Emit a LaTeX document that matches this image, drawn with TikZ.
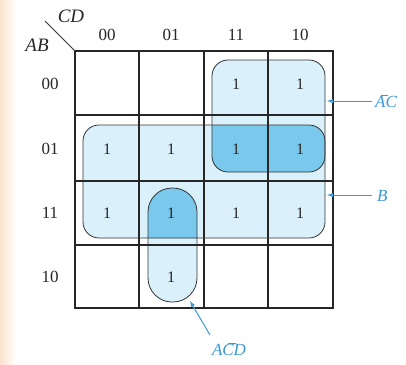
\documentclass[tikz,border=0pt]{standalone}
\usepackage{fontspec}
\setmainfont{Liberation Serif}
\newcommand{\barlet}[1]{\rlap{\hspace{0.33em}\rule[1.55ex]{0.45em}{0.6pt}}#1}
\begin{document}
\begin{tikzpicture}[x=1pt,y=-1pt,
  gridline/.style={line width=1.3pt,black!85},
  loopline/.style={line width=0.8pt,black!80},
  onelbl/.style={font=\fontsize{16}{16}\selectfont,text=black!85},
  idxlbl/.style={font=\fontsize{17}{17}\selectfont,text=black!85},
  varlbl/.style={font=\fontsize{19}{19}\selectfont\itshape,text=black!85},
  termlbl/.style={font=\fontsize{17}{17}\selectfont\itshape,text=bluelbl},
  bluearrow/.style={-latex,line width=1pt,draw=bluelbl}]
\definecolor{lightfill}{RGB}{218,241,251}
\definecolor{darkfill}{RGB}{122,201,236}
\definecolor{bluelbl}{RGB}{62,152,212}
\definecolor{peach}{RGB}{250,228,206}
\useasboundingbox (0,0) rectangle (406,364);
\fill[white] (0,0) rectangle (406,364);
\shade[left color=peach,right color=white] (0,0) rectangle (16,364);
% loop fills
\def\loopB{(83,125) rectangle (325,238)}
\def\loopAC{(212,60) rectangle (325,172)}
\def\loopACD{(148,188) rectangle (197,302)}
\fill[lightfill,rounded corners=16pt] \loopB;
\fill[lightfill,rounded corners=16pt] \loopAC;
\fill[lightfill,rounded corners=24pt] \loopACD;
\begin{scope}
  \clip[rounded corners=16pt] \loopB;
  \fill[darkfill,rounded corners=16pt] \loopAC;
  \fill[darkfill,rounded corners=24pt] \loopACD;
\end{scope}
% grid
\draw[gridline] (75,51) rectangle (333,308);
\foreach \x in {139,204,268} \draw[gridline] (\x,51) -- (\x,308);
\foreach \y in {115,181,245} \draw[gridline] (75,\y) -- (333,\y);
% loop outlines
\draw[loopline,rounded corners=16pt] \loopB;
\draw[loopline,rounded corners=16pt] \loopAC;
\draw[loopline,rounded corners=24pt] \loopACD;
% corner
\coordinate (corner) at (75,51);
\coordinate (diagend) at (45,21);
\draw[line width=1pt,black!80] (corner) -- (diagend);
\node[varlbl] (cd) at (71,16) {CD};
\node[varlbl] (ab) at (37,45) {AB};
% column labels
\node[idxlbl] (c0) at (107,35) {00};
\node[idxlbl] (c1) at (171,35) {01};
\node[idxlbl] (c2) at (236,35) {11};
\node[idxlbl] (c3) at (300,35) {10};
% row labels
\node[idxlbl] (r0) at (50,84) {00};
\node[idxlbl] (r1) at (50,149) {01};
\node[idxlbl] (r2) at (50,213) {11};
\node[idxlbl] (r3) at (50,277) {10};
% ones
\node[onelbl] (m02) at (236,84) {1};
\node[onelbl] (m03) at (300,84) {1};
\node[onelbl] (m10) at (107,149) {1};
\node[onelbl] (m11) at (171,149) {1};
\node[onelbl] (m12) at (236,149) {1};
\node[onelbl] (m13) at (300,149) {1};
\node[onelbl] (m20) at (107,213) {1};
\node[onelbl] (m21) at (171,213) {1};
\node[onelbl] (m22) at (236,213) {1};
\node[onelbl] (m23) at (300,213) {1};
\node[onelbl] (m31) at (171,277) {1};
% term labels and arrows
\node[termlbl,anchor=west,inner sep=1pt] (tAC) at (374,101) {\barlet{A}C};
\node[termlbl,anchor=west,inner sep=1pt] (tB) at (376,196) {B};
\node[termlbl,inner sep=1pt] (tACD) at (229,349) {A\barlet{C}D};
\coordinate (pAC) at (327,101);
\coordinate (pB) at (327,195);
\coordinate (pACD) at (190,301);
\draw[bluearrow] (tAC.west) ++(-2,0) -- (pAC);
\draw[bluearrow] (372,195) -- (pB);
\draw[bluearrow] (210,335) -- (pACD);
\end{tikzpicture}
\end{document}
